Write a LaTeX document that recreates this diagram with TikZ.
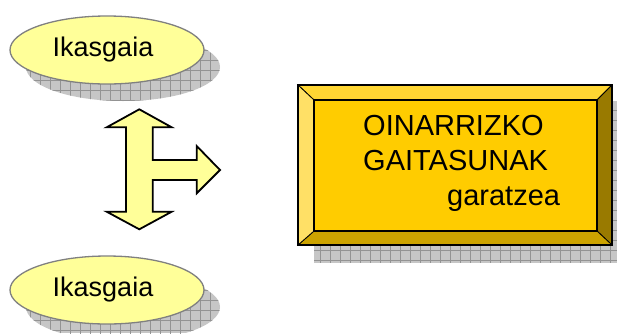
\documentclass[tikz,border=0pt]{standalone}
\usepackage{fontspec}
\setmainfont{Liberation Sans}
\definecolor{paleyellow}{HTML}{FFFF99}
\definecolor{gold}{HTML}{FFCC00}
\definecolor{goldtop}{HTML}{FFD633}
\definecolor{goldleft}{HTML}{FFE066}
\definecolor{goldright}{HTML}{997A00}
\definecolor{goldbottom}{HTML}{CCA300}
\newcommand\gridshadow{\fill[gray!45] (0,0) rectangle (617,333);
\foreach\i in{0,10,...,620} \draw[gray!85, line width=0.6] (\i,0)--(\i,340);
\foreach\i in{0,10,...,340} \draw[gray!85, line width=0.6] (0,\i)--(620,\i);}

\begin{document}
\begin{tikzpicture}[x=1pt,y=-1pt, line join=miter]
\useasboundingbox (0,0) rectangle (617,333);
% shadows of the two ellipses
\foreach\y in{50,290}{
\begin{scope}
\clip (123,\y+17) ellipse (97 and 34);
\gridshadow
\end{scope}
}
% shadow of the box
\begin{scope}
\clip (314,101) rectangle (617,262);
\gridshadow
\end{scope}
% ellipses
\foreach\y/\n in{50/top, 290/bottom}{
\filldraw[fill=paleyellow, draw=gray, line width=1.3] (107,\y) ellipse (97 and 34);
\node[font=\fontsize{27}{30}\selectfont, inner sep=0] (\n) at (103,\y) {Ikasgaia};
}
% three-way arrow
\filldraw[fill=paleyellow, line width=1.8]
(139.3,109.3) -- (171.7,127.3) -- (152.7,127.3) -- (152.7,160) -- (196.7,160)
-- (196.7,146) -- (220,170) -- (196.7,193.3) -- (196.7,180) -- (152.7,180)
-- (152.7,211.7) -- (171.7,211.7) -- (139.3,229.3) -- (106.7,211.7)
-- (126,211.7) -- (126,127.3) -- (106.7,127.3) -- cycle;
% bevelled box
\filldraw[fill=goldtop, line width=0.8] (298,85) -- (612,85) -- (597,100) -- (314,100) -- cycle;
\filldraw[fill=goldright, line width=0.8] (612,85) -- (612,245) -- (597,231) -- (597,100) -- cycle;
\filldraw[fill=goldbottom, line width=0.8] (612,245) -- (298,245) -- (314,231) -- (597,231) -- cycle;
\filldraw[fill=goldleft, line width=0.8] (298,245) -- (298,85) -- (314,100) -- (314,231) -- cycle;
\filldraw[fill=gold, line width=1.2] (314,100) rectangle (597,231);
\draw[line width=1.8] (298,85) rectangle (612,245);
\node[font=\fontsize{29}{35}\selectfont, align=left, anchor=north west, inner sep=0] (goal) at (363,115)
{OINARRIZKO\\GAITASUNAK\\\hspace*{84pt}garatzea};
\end{tikzpicture}
\end{document}
